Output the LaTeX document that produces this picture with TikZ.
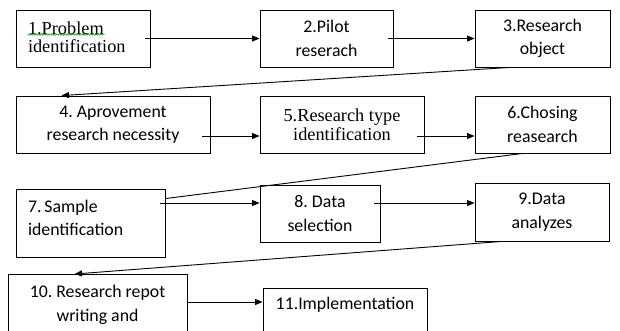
\documentclass[tikz,border=0pt]{standalone}
\usepackage{fontspec}
\setmainfont{Carlito}
\newfontfamily\tnr{Liberation Serif}
\usetikzlibrary{arrows.meta,calc,decorations.pathmorphing}
\frenchspacing
\begin{document}
\begin{tikzpicture}[x=1pt,y=-1pt,
  box/.style={draw,line width=0.9pt,inner xsep=4pt,inner ysep=2pt,align=center,
    font=\fontsize{17.8}{23.5}\selectfont},
  serifbox/.style={box,font=\fontsize{18.3}{19.5}\selectfont\tnr},
  arr/.style={line width=0.9pt,-{Triangle[length=7.5pt,width=6pt]}},
  ln/.style={line width=0.9pt}]
\clip (0,0) rectangle (620,330);
\node[serifbox,minimum width=134pt,minimum height=57pt,text width=110pt,align=left,
  font=\fontsize{18.3}{18}\selectfont\tnr,text height=14pt,text depth=23pt] (b1) at (83,38.5) {1.Problem\\identification};
\node[box,minimum width=133pt,minimum height=57pt] (b2) at (326.5,38.5) {2.Pilot\\reserach};
\node[box,minimum width=135pt,minimum height=57pt] (b3) at (542.5,38.5) {3.Research\\object};
\node[box,minimum width=194pt,minimum height=57pt] (b4) at (113,124.5) {4. Aprovement\\research necessity};
\node[serifbox,minimum width=164pt,minimum height=57pt] (b5) at (342,124.5) {5.Research type\\identification};
\node[box,minimum width=135pt,minimum height=57pt] (b6) at (542.5,124.5) {6.Chosing\\reasearch};
\node[box,minimum width=149pt,minimum height=68pt,text width=125pt,align=left,
  text height=13pt,text depth=35pt] (b7) at (90.5,223) {7.\,Sample\\identification};
\node[box,minimum width=120pt,minimum height=57pt] (b8) at (320,213.5) {8. Data\\selection};
\node[box,minimum width=134pt,minimum height=58pt] (b9) at (542,212) {9.Data\\analyzes};
\node[box,anchor=north,minimum width=179pt,inner ysep=12pt,text height=35pt,text depth=40pt] (b10) at (97.5,274) {10. Research repot\\writing and};
\node[box,anchor=north,minimum width=164pt,inner ysep=10pt,text height=11pt,text depth=40pt] (b11) at (345,288) {11.Implementation};
% spell-check squiggle
\draw[green!55!black,line width=0.5pt,decorate,decoration={snake,amplitude=0.8pt,segment length=2.6pt}]
  ($(b1.north west)+(12,25)$) -- ($(b1.north west)+(89,25)$);
% row connectors
\draw[arr] ([xshift=-5pt]b1.east) -- (b2.west);
\draw[arr] ([xshift=-5pt]b2.east) -- (b3.west);
\draw[arr] ([shift={(-8pt,-11.5pt)}]b4.east) -- ([yshift=-11.5pt]b5.west);
\draw[arr] ([shift={(-7pt,-11.5pt)}]b5.east) -- ([yshift=-11.5pt]b6.west);
\draw[arr] ([shift={(-5pt,20pt)}]b7.east) -- ([yshift=10.5pt]b8.west);
\draw[arr] ([shift={(-6pt,10.5pt)}]b8.east) -- ([yshift=9pt]b9.west);
\draw[arr] ([yshift=-28pt]b10.north east) -- ([yshift=-14pt]b11.north west);
% diagonal returns
\draw[arr] ([xshift=35pt]b3.south west) -- ([xshift=46pt]b4.north west);
\draw[ln] ([xshift=48pt]b6.south west) -- ([yshift=-10pt]b7.north east);
\draw[arr] ([xshift=27pt]b9.south west) -- ([xshift=67pt]b10.north west);
\end{tikzpicture}
\end{document}
